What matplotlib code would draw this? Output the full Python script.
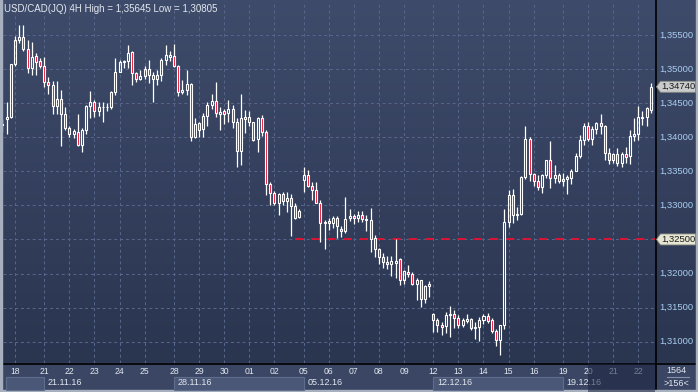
import matplotlib.pyplot as plt
import numpy as np
from matplotlib.patches import Rectangle, Polygon
from matplotlib.colors import to_rgb

# 4H candles, USD/CAD 17.11.16 - 22.12.16
opens = [1.3418, 1.3426, 1.3429, 1.3507, 1.3542, 1.3547, 1.3529, 1.3502, 1.3519, 1.3512,
         1.3504, 1.3481, 1.3477, 1.3446, 1.3456, 1.3434, 1.3413, 1.3405, 1.3407, 1.3388,
         1.3410, 1.3446, 1.3452, 1.3439, 1.3444, 1.3445, 1.3444, 1.3466, 1.3496, 1.3511,
         1.3512, 1.3525, 1.3494, 1.3486, 1.3490, 1.3500, 1.3485, 1.3485, 1.3491, 1.3514,
         1.3518, 1.3519, 1.3505, 1.3467, 1.3470, 1.3478, 1.3400, 1.3421, 1.3412, 1.3431,
         1.3447, 1.3453, 1.3434, 1.3438, 1.3435, 1.3442, 1.3423, 1.3380, 1.3426, 1.3429,
         1.3422, 1.3397, 1.3428, 1.3408, 1.3331, 1.3318, 1.3303, 1.3317, 1.3306, 1.3311,
         1.3299, 1.3283, 1.3337, 1.3344, 1.3328, 1.3323, 1.3304, 1.3274, 1.3274, 1.3274,
         1.3281, 1.3266, 1.3262, 1.3282, 1.3285, 1.3281, 1.3286, 1.3280, 1.3279, 1.3252,
         1.3236, 1.3224, 1.3217, 1.3214, 1.3216, 1.3221, 1.3190, 1.3202, 1.3199, 1.3185,
         1.3190, 1.3162, 1.3181, 1.3140, 1.3132, 1.3125, 1.3123, 1.3139, 1.3140, 1.3134,
         1.3125, 1.3131, 1.3133, 1.3120, 1.3121, 1.3132, 1.3137, 1.3132, 1.3115, 1.3103,
         1.3124, 1.3276, 1.3315, 1.3286, 1.3287, 1.3341, 1.3397, 1.3346, 1.3336, 1.3327,
         1.3345, 1.3367, 1.3340, 1.3344, 1.3336, 1.3339, 1.3340, 1.3351, 1.3373, 1.3396,
         1.3417, 1.3397, 1.3412, 1.3421, 1.3417, 1.3377, 1.3367, 1.3376, 1.3362, 1.3376,
         1.3372, 1.3402, 1.3404, 1.3428, 1.3429, 1.3440]
highs = [1.3426, 1.3451, 1.3507, 1.3549, 1.35645, 1.35645, 1.3543, 1.3539, 1.3523, 1.3516,
         1.3517, 1.3489, 1.3482, 1.3482, 1.3469, 1.3444, 1.3417, 1.3412, 1.3434, 1.3414,
         1.3448, 1.3468, 1.3455, 1.3452, 1.3452, 1.3450, 1.3468, 1.3516, 1.3514, 1.3514,
         1.3535, 1.3526, 1.3496, 1.3499, 1.3504, 1.3514, 1.3495, 1.3498, 1.3516, 1.3535,
         1.3526, 1.3537, 1.3506, 1.3484, 1.3499, 1.3479, 1.3428, 1.3423, 1.3435, 1.3452,
         1.3464, 1.3481, 1.3445, 1.3442, 1.3454, 1.3447, 1.3428, 1.3463, 1.3440, 1.3439,
         1.3423, 1.3430, 1.3433, 1.3410, 1.3334, 1.3321, 1.3318, 1.3320, 1.3320, 1.3317,
         1.3304, 1.3295, 1.3357, 1.3352, 1.3334, 1.3335, 1.3308, 1.3279, 1.3281, 1.3284,
         1.3284, 1.3270, 1.3312, 1.3294, 1.3287, 1.3292, 1.3291, 1.3286, 1.3296, 1.3257,
         1.3237, 1.3230, 1.3225, 1.3225, 1.3250, 1.3223, 1.3205, 1.3212, 1.3202, 1.3193,
         1.3190, 1.3183, 1.3189, 1.3142, 1.3134, 1.3129, 1.3143, 1.3152, 1.3146, 1.3139,
         1.3135, 1.3140, 1.3135, 1.3129, 1.3136, 1.3140, 1.3142, 1.3135, 1.3118, 1.3125,
         1.3294, 1.3323, 1.3324, 1.3298, 1.3343, 1.3417, 1.3400, 1.3348, 1.3345, 1.3346,
         1.3367, 1.3394, 1.3359, 1.3347, 1.3347, 1.3345, 1.3354, 1.3377, 1.3403, 1.3421,
         1.3422, 1.3416, 1.3422, 1.3434, 1.3418, 1.3384, 1.3377, 1.3384, 1.3378, 1.3386,
         1.3411, 1.3428, 1.3446, 1.3438, 1.3445, 1.3479]
lows = [1.3407, 1.3404, 1.3428, 1.3505, 1.3538, 1.3527, 1.3494, 1.3491, 1.3491, 1.3501,
        1.3474, 1.3464, 1.3434, 1.3434, 1.3387, 1.3411, 1.3401, 1.3399, 1.3387, 1.3379,
        1.3404, 1.3428, 1.3430, 1.3431, 1.3423, 1.3439, 1.3441, 1.3462, 1.3495, 1.3501,
        1.3501, 1.3477, 1.3481, 1.3484, 1.3486, 1.3480, 1.3452, 1.3477, 1.3483, 1.3506,
        1.3512, 1.3503, 1.3460, 1.3463, 1.3462, 1.3395, 1.3399, 1.3400, 1.3400, 1.3416,
        1.3442, 1.3429, 1.3411, 1.3420, 1.3423, 1.3413, 1.3357, 1.3359, 1.3406, 1.3416,
        1.3394, 1.3378, 1.3402, 1.3315, 1.3301, 1.3301, 1.3286, 1.3300, 1.3290, 1.3255,
        1.3280, 1.3281, 1.3319, 1.3327, 1.3308, 1.3303, 1.3246, 1.3236, 1.3264, 1.3267,
        1.3252, 1.3254, 1.3259, 1.3277, 1.3272, 1.3275, 1.3275, 1.3262, 1.3232, 1.3224,
        1.3214, 1.3208, 1.3207, 1.3197, 1.3193, 1.3183, 1.3184, 1.3195, 1.3183, 1.3161,
        1.3151, 1.3157, 1.3166, 1.3114, 1.3114, 1.3110, 1.3112, 1.3107, 1.3120, 1.3120,
        1.3121, 1.3127, 1.3117, 1.3104, 1.3101, 1.3126, 1.3128, 1.3113, 1.3093, 1.30805,
        1.3119, 1.3268, 1.3274, 1.3279, 1.3286, 1.3338, 1.3336, 1.3328, 1.3322, 1.3318,
        1.3340, 1.3325, 1.3333, 1.3333, 1.3329, 1.3316, 1.3331, 1.3350, 1.3370, 1.3389,
        1.3394, 1.3388, 1.3405, 1.3405, 1.3367, 1.3360, 1.3362, 1.3358, 1.3357, 1.3362,
        1.3360, 1.3395, 1.3396, 1.3418, 1.3416, 1.3436]
closes = [1.3419, 1.3429, 1.3507, 1.3542, 1.3547, 1.3529, 1.3502, 1.3517, 1.3511, 1.3504,
          1.3481, 1.3476, 1.3446, 1.3456, 1.3434, 1.3413, 1.3405, 1.3409, 1.3388, 1.3410,
          1.3446, 1.3452, 1.3439, 1.3444, 1.3445, 1.3444, 1.3466, 1.3496, 1.3511, 1.3512,
          1.3523, 1.3494, 1.3485, 1.3490, 1.3500, 1.3491, 1.3491, 1.3491, 1.3513, 1.3521,
          1.3521, 1.3505, 1.3467, 1.3470, 1.3478, 1.3400, 1.3420, 1.3411, 1.3431, 1.3447,
          1.3453, 1.3435, 1.3437, 1.3434, 1.3442, 1.3423, 1.3380, 1.3428, 1.3429, 1.3422,
          1.3396, 1.3428, 1.3408, 1.3331, 1.3318, 1.3303, 1.3317, 1.3306, 1.3311, 1.3299,
          1.3282, 1.3292, 1.3344, 1.3328, 1.3323, 1.3304, 1.3274, 1.3275, 1.3277, 1.3281,
          1.3269, 1.3262, 1.3280, 1.3285, 1.3281, 1.3286, 1.3280, 1.3278, 1.3250, 1.3236,
          1.3224, 1.3217, 1.3214, 1.3219, 1.3219, 1.3190, 1.3203, 1.3199, 1.3184, 1.3190,
          1.3162, 1.3181, 1.3184, 1.3132, 1.3125, 1.3122, 1.3139, 1.3140, 1.3134, 1.3124,
          1.3132, 1.3133, 1.3120, 1.3122, 1.3132, 1.3137, 1.3130, 1.3115, 1.3103, 1.3124,
          1.3276, 1.3315, 1.3286, 1.3288, 1.3341, 1.3397, 1.3346, 1.3336, 1.3327, 1.3345,
          1.3367, 1.3340, 1.3344, 1.3336, 1.3339, 1.3341, 1.3351, 1.3373, 1.3396, 1.3417,
          1.3397, 1.3412, 1.3421, 1.3417, 1.3377, 1.3367, 1.3376, 1.3362, 1.3376, 1.3371,
          1.3402, 1.3405, 1.3429, 1.3430, 1.3443, 1.3474]

day_labels = ['18', '21', '22', '23', '24', '25', '28', '29', '30', '01', '02', '05', '06',
              '07', '08', '09', '12', '13', '14', '15', '16', '19', '20', '21', '22']
day_pos = [3, 10, 16, 22, 28, 34, 41, 47, 53, 59, 65, 72, 78,
           84, 90, 96, 103, 109, 115, 121, 127, 134, 140, 146, 152]
week_labels = ['21.11.16', '28.11.16', '05.12.16', '12.12.16', '19.12.16']
week_pos = [10, 41, 72, 103, 134]
price_ticks = [1.310, 1.315, 1.320, 1.325, 1.330, 1.335, 1.340, 1.345, 1.350, 1.355]

title = 'USD/CAD(JQ) 4H High = 1,35645 Low = 1,30805'
last_price = 1.3474
level_price = 1.325
level_start = 70
bar_count = '1564'
bar_shown = '>156<'

W, H = 698, 392
FONT = ['Liberation Sans', 'DejaVu Sans']
txt_col = '#e2e8ef'
red = '#ea1030'

fig = plt.figure(figsize=(W / 100, H / 100), dpi=100)

# background: vertical gradient + bottom panel + light frame
bg = fig.add_axes([0, 0, 1, 1])
bg.set_xlim(0, W)
bg.set_ylim(H, 0)
bg.axis('off')
top_c, bot_c = np.array(to_rgb('#3e4b6a')), np.array(to_rgb('#2a3550'))
t = np.linspace(0, 1, 363)[:, None, None]
grad = top_c * (1 - t) + bot_c * t
bg.imshow(grad, extent=(0, W, 363, 0), aspect='auto', zorder=0)
bg.add_patch(Rectangle((0, 363), W, 29, color='#3a4664', zorder=1))
bg.add_patch(Rectangle((0, 0), 2, H, color='#a7b0be', zorder=5))
bg.add_patch(Rectangle((696, 0), 2, H, color='#a7b0be', zorder=5))
bg.add_patch(Rectangle((0, 390), W, 2, color='#a7b0be', zorder=5))
bg.plot([0, W], [363.5, 363.5], color='black', lw=1.2, zorder=4)
bg.plot([655.5, 655.5], [0, 390], color='black', lw=1.2, zorder=4)

# bottom right counter
bg.text(676, 370.5, bar_count, ha='center', va='center', fontsize=6.5, color=txt_col, family=FONT)
bg.plot([667, 689], [377, 377], color='#8592aa', lw=0.8)
bg.text(676, 384, bar_shown, ha='center', va='center', fontsize=6.5, color=txt_col, family=FONT)

# price chart
ax = fig.add_axes([3 / W, (H - 363) / H, 652 / W, 361 / H])
ax.set_facecolor('none')
for s in ax.spines.values():
    s.set_visible(False)
ax.set_xticks([])
ax.set_yticks([])
ax.set_xlim(0.13, 156.0)
ax.set_ylim(1.30687, 1.35984)

grid_kw = dict(color='#56658a', lw=0.75, ls=(0, (2.8, 2.8)), zorder=1)
for p in price_ticks:
    ax.axhline(p, **grid_kw)
for d in day_pos:
    ax.axvline(d, **grid_kw)

ax.hlines(level_price, level_start, 156.0, color=red, lw=1.3, ls=(0, (4.5, 4.5)), zorder=2)

for i in range(len(opens)):
    o, h, l, c = opens[i], highs[i], lows[i], closes[i]
    lo_b, hi_b = min(o, c), max(o, c)
    ax.vlines(i, hi_b, h, color='white', lw=0.9, zorder=3)
    ax.vlines(i, l, lo_b, color='white', lw=0.9, zorder=3)
    fc = red if c < o else 'none'
    ax.add_patch(Rectangle((i - 0.24, lo_b), 0.48, max(hi_b - lo_b, 0.00003),
                           facecolor=fc, edgecolor='white', lw=0.8, zorder=4))

ax.text(1 / 652, 1 - 6.5 / 361, title, transform=ax.transAxes, ha='left', va='center',
        fontsize=7, color=txt_col, family=FONT)

# price scale on the right
ytr = ax.get_yaxis_transform()
px = lambda v: (v - 3) / 652
for p in price_ticks:
    if abs(p - level_price) < 1e-9:
        continue
    ax.text(px(659), p, ('%.5f' % p).replace('.', ','), transform=ytr, ha='left', va='center',
            fontsize=6.8, color='#a9cdef', family=FONT, clip_on=False)

bh = 5.5 / 6815.6
for p, fc in [(last_price, '#c9cbcd'), (level_price, '#e6e6d3')]:
    pts = [(px(656.5), p), (px(660.5), p + bh), (px(695.5), p + bh), (px(695.5), p - bh), (px(660.5), p - bh)]
    ax.add_patch(Polygon(pts, closed=True, transform=ytr, facecolor=fc, edgecolor='#8a8a80',
                         lw=0.6, clip_on=False, zorder=6))
    ax.text(px(661.5), p, ('%.5f' % p).replace('.', ','), transform=ytr, ha='left', va='center',
            fontsize=6.8, color='#1a1a1a', family=FONT, clip_on=False, zorder=7)

# time axis
axb = fig.add_axes([3 / W, 0, 652 / W, 28 / H])
axb.set_facecolor('none')
axb.axis('off')
axb.set_xlim(0.13, 156.0)
axb.set_ylim(0, 28)

starts = [0.85] + week_pos
ends = week_pos + [156.0]
for k in range(0, len(starts), 2):
    axb.add_patch(Rectangle((starts[k], 2), ends[k] - starts[k], 13.3, facecolor='#4a5777',
                            edgecolor='#5f6d8d', lw=0.8, zorder=1))
for d, lab in zip(day_pos, day_labels):
    axb.text(d, 20.5, lab, ha='center', va='center', fontsize=6.2, color=txt_col, family=FONT, zorder=2)
for d, lab in zip(week_pos, week_labels):
    axb.text(d + 0.85, 9.3, lab, ha='left', va='center', fontsize=6.5, color=txt_col, family=FONT, zorder=2)
axb.add_patch(Rectangle((140.06, 0), 16, 28, facecolor='#1c2540', alpha=0.55, zorder=3))

fig.savefig('out.png', dpi=100)
